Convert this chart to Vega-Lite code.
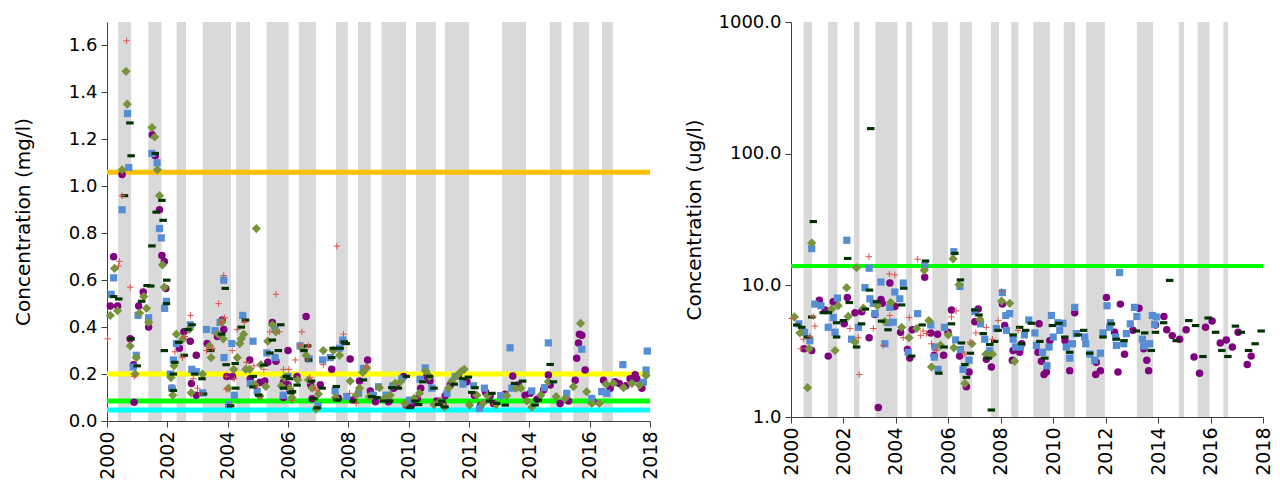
{
"$schema":"https://vega.github.io/schema/vega-lite/v6.json",
"background":"white",
"padding":{"left":13,"top":13,"right":0,"bottom":0},
"spacing":141,
"bounds":"flush",
"config":{
 "view":{"stroke":null},
 "font":"DejaVu Sans",
 "axis":{"grid":false,"domainColor":"#404040","tickColor":"#404040","domainWidth":1,"tickWidth":1,"tickSize":6,"labelColor":"#000000","labelFontSize":18,"labelFont":"DejaVu Sans","titleFont":"DejaVu Sans","titleFontSize":20,"titleFontWeight":"normal","titleColor":"#000000","labelPadding":4},
 "axisX":{"format":"d","labelAngle":-90,"labelFontSize":19},
 "axisY":{"format":".1f"}
},
"datasets":{
 "bl":[{"a":2000.37,"b":2000.8},{"a":2001.37,"b":2001.81},{"a":2002.31,"b":2002.62},{"a":2003.17,"b":2004.11},{"a":2004.28,"b":2004.74},{"a":2005.29,"b":2006.02},{"a":2006.36,"b":2006.93},{"a":2007.59,"b":2007.98},{"a":2008.32,"b":2008.74},{"a":2009.1,"b":2009.91},{"a":2010.24,"b":2010.9},{"a":2011.2,"b":2012.0},{"a":2013.1,"b":2013.89},{"a":2014.68,"b":2015.07},{"a":2015.46,"b":2015.98},{"a":2016.41,"b":2016.77}],
 "br":[{"a":2000.48,"b":2000.8},{"a":2001.41,"b":2001.77},{"a":2002.4,"b":2002.61},{"a":2003.22,"b":2004.06},{"a":2004.39,"b":2004.62},{"a":2005.39,"b":2005.98},{"a":2006.44,"b":2006.9},{"a":2007.63,"b":2007.93},{"a":2008.4,"b":2008.67},{"a":2009.24,"b":2009.87},{"a":2010.4,"b":2010.83},{"a":2011.26,"b":2011.97},{"a":2013.19,"b":2013.81},{"a":2014.79,"b":2014.99},{"a":2015.51,"b":2015.96},{"a":2016.49,"b":2016.67}],
 "hl":[{"v":1.06,"c":"o"},{"v":0.2,"c":"y"},{"v":0.085,"c":"g"},{"v":0.047,"c":"c"}],
 "hr":[{"v":14}],
 "pl":[
{"t":2000.22,"v":0.7,"s":"P"},{"t":2000.11,"v":0.49,"s":"P"},{"t":2000.35,"v":0.49,"s":"P"},{"t":2000.5,"v":1.05,"s":"P"},{"t":2000.77,"v":0.35,"s":"P"},{"t":2000.88,"v":0.24,"s":"P"},{"t":2000.9,"v":0.08,"s":"P"},{"t":2001.05,"v":0.49,"s":"P"},{"t":2001.2,"v":0.55,"s":"P"},{"t":2001.38,"v":0.4,"s":"P"},{"t":2001.5,"v":1.22,"s":"P"},{"t":2001.6,"v":1.13,"s":"P"},{"t":2001.74,"v":0.9,"s":"P"},{"t":2001.82,"v":0.705,"s":"P"},{"t":2001.9,"v":0.68,"s":"P"},{"t":2001.95,"v":0.565,"s":"P"},{"t":2002.15,"v":0.14,"s":"P"},{"t":2002.4,"v":0.31,"s":"P"},{"t":2002.55,"v":0.38,"s":"P"},{"t":2002.76,"v":0.34,"s":"P"},{"t":2002.8,"v":0.16,"s":"P"},{"t":2002.96,"v":0.28,"s":"P"},{"t":2002.96,"v":0.11,"s":"P"},{"t":2003.32,"v":0.33,"s":"P"},{"t":2003.66,"v":0.36,"s":"P"},{"t":2003.82,"v":0.43,"s":"P"},{"t":2003.87,"v":0.39,"s":"P"},{"t":2003.97,"v":0.19,"s":"P"},{"t":2004.16,"v":0.19,"s":"P"},{"t":2004.73,"v":0.26,"s":"P"},{"t":2004.75,"v":0.18,"s":"P"},{"t":2005.07,"v":0.165,"s":"P"},{"t":2005.23,"v":0.17,"s":"P"},{"t":2005.33,"v":0.25,"s":"P"},{"t":2005.48,"v":0.42,"s":"P"},{"t":2005.6,"v":0.255,"s":"P"},{"t":2005.85,"v":0.165,"s":"P"},{"t":2005.85,"v":0.1,"s":"P"},{"t":2006.0,"v":0.3,"s":"P"},{"t":2006.0,"v":0.155,"s":"P"},{"t":2006.07,"v":0.13,"s":"P"},{"t":2006.3,"v":0.19,"s":"P"},{"t":2006.6,"v":0.445,"s":"P"},{"t":2006.75,"v":0.155,"s":"P"},{"t":2006.8,"v":0.095,"s":"P"},{"t":2007.07,"v":0.155,"s":"P"},{"t":2007.45,"v":0.22,"s":"P"},{"t":2007.67,"v":0.097,"s":"P"},{"t":2007.82,"v":0.34,"s":"P"},{"t":2008.06,"v":0.264,"s":"P"},{"t":2008.15,"v":0.09,"s":"P"},{"t":2008.37,"v":0.17,"s":"P"},{"t":2008.64,"v":0.26,"s":"P"},{"t":2008.73,"v":0.128,"s":"P"},{"t":2008.9,"v":0.082,"s":"P"},{"t":2009.33,"v":0.082,"s":"P"},{"t":2009.5,"v":0.14,"s":"P"},{"t":2009.6,"v":0.15,"s":"P"},{"t":2009.83,"v":0.19,"s":"P"},{"t":2009.92,"v":0.068,"s":"P"},{"t":2010.1,"v":0.068,"s":"P"},{"t":2010.29,"v":0.096,"s":"P"},{"t":2010.4,"v":0.14,"s":"P"},{"t":2010.6,"v":0.19,"s":"P"},{"t":2010.71,"v":0.17,"s":"P"},{"t":2010.93,"v":0.085,"s":"P"},{"t":2011.15,"v":0.068,"s":"P"},{"t":2011.21,"v":0.108,"s":"P"},{"t":2011.38,"v":0.153,"s":"P"},{"t":2011.65,"v":0.194,"s":"P"},{"t":2011.93,"v":0.167,"s":"P"},{"t":2012.17,"v":0.11,"s":"P"},{"t":2012.39,"v":0.068,"s":"P"},{"t":2012.55,"v":0.122,"s":"P"},{"t":2012.7,"v":0.108,"s":"P"},{"t":2012.81,"v":0.075,"s":"P"},{"t":2013.2,"v":0.114,"s":"P"},{"t":2013.45,"v":0.192,"s":"P"},{"t":2013.64,"v":0.153,"s":"P"},{"t":2013.86,"v":0.11,"s":"P"},{"t":2014.03,"v":0.118,"s":"P"},{"t":2014.25,"v":0.093,"s":"P"},{"t":2014.47,"v":0.132,"s":"P"},{"t":2014.63,"v":0.196,"s":"P"},{"t":2014.69,"v":0.153,"s":"P"},{"t":2015.02,"v":0.075,"s":"P"},{"t":2015.3,"v":0.085,"s":"P"},{"t":2015.52,"v":0.174,"s":"P"},{"t":2015.57,"v":0.267,"s":"P"},{"t":2015.63,"v":0.332,"s":"P"},{"t":2015.66,"v":0.37,"s":"P"},{"t":2015.74,"v":0.365,"s":"P"},{"t":2015.85,"v":0.217,"s":"P"},{"t":2016.12,"v":0.082,"s":"P"},{"t":2016.46,"v":0.174,"s":"P"},{"t":2016.68,"v":0.14,"s":"P"},{"t":2016.84,"v":0.167,"s":"P"},{"t":2016.98,"v":0.16,"s":"P"},{"t":2017.2,"v":0.15,"s":"P"},{"t":2017.34,"v":0.18,"s":"P"},{"t":2017.51,"v":0.197,"s":"P"},{"t":2017.56,"v":0.18,"s":"P"},{"t":2017.73,"v":0.14,"s":"P"},
{"t":2000.14,"v":0.54,"s":"B"},{"t":2000.22,"v":0.61,"s":"B"},{"t":2000.5,"v":0.9,"s":"B"},{"t":2000.68,"v":1.31,"s":"B"},{"t":2000.72,"v":1.08,"s":"B"},{"t":2000.97,"v":0.28,"s":"B"},{"t":2000.87,"v":0.23,"s":"B"},{"t":2001.03,"v":0.45,"s":"B"},{"t":2001.38,"v":0.44,"s":"B"},{"t":2001.49,"v":1.14,"s":"B"},{"t":2001.66,"v":1.1,"s":"B"},{"t":2001.74,"v":0.82,"s":"B"},{"t":2001.8,"v":0.78,"s":"B"},{"t":2001.91,"v":0.48,"s":"B"},{"t":2001.97,"v":0.51,"s":"B"},{"t":2002.1,"v":0.2,"s":"B"},{"t":2002.15,"v":0.14,"s":"B"},{"t":2002.2,"v":0.26,"s":"B"},{"t":2002.3,"v":0.33,"s":"B"},{"t":2002.76,"v":0.41,"s":"B"},{"t":2002.81,"v":0.22,"s":"B"},{"t":2002.96,"v":0.21,"s":"B"},{"t":2003.17,"v":0.12,"s":"B"},{"t":2003.3,"v":0.39,"s":"B"},{"t":2003.58,"v":0.385,"s":"B"},{"t":2003.75,"v":0.42,"s":"B"},{"t":2003.87,"v":0.6,"s":"B"},{"t":2003.88,"v":0.27,"s":"B"},{"t":2004.03,"v":0.07,"s":"B"},{"t":2004.14,"v":0.33,"s":"B"},{"t":2004.22,"v":0.11,"s":"B"},{"t":2004.5,"v":0.45,"s":"B"},{"t":2004.75,"v":0.16,"s":"B"},{"t":2004.84,"v":0.34,"s":"B"},{"t":2004.98,"v":0.125,"s":"B"},{"t":2005.3,"v":0.29,"s":"B"},{"t":2005.57,"v":0.39,"s":"B"},{"t":2005.57,"v":0.27,"s":"B"},{"t":2005.84,"v":0.11,"s":"B"},{"t":2006.0,"v":0.19,"s":"B"},{"t":2006.4,"v":0.32,"s":"B"},{"t":2006.7,"v":0.265,"s":"B"},{"t":2007.0,"v":0.065,"s":"B"},{"t":2007.15,"v":0.26,"s":"B"},{"t":2007.4,"v":0.27,"s":"B"},{"t":2007.56,"v":0.128,"s":"B"},{"t":2007.71,"v":0.31,"s":"B"},{"t":2007.82,"v":0.345,"s":"B"},{"t":2007.95,"v":0.104,"s":"B"},{"t":2008.34,"v":0.118,"s":"B"},{"t":2008.5,"v":0.224,"s":"B"},{"t":2008.83,"v":0.11,"s":"B"},{"t":2009.0,"v":0.146,"s":"B"},{"t":2009.25,"v":0.11,"s":"B"},{"t":2009.47,"v":0.15,"s":"B"},{"t":2009.77,"v":0.18,"s":"B"},{"t":2010.03,"v":0.089,"s":"B"},{"t":2010.38,"v":0.178,"s":"B"},{"t":2010.55,"v":0.226,"s":"B"},{"t":2010.77,"v":0.14,"s":"B"},{"t":2011.27,"v":0.118,"s":"B"},{"t":2011.54,"v":0.19,"s":"B"},{"t":2011.8,"v":0.157,"s":"B"},{"t":2012.15,"v":0.15,"s":"B"},{"t":2012.35,"v":0.054,"s":"B"},{"t":2012.51,"v":0.14,"s":"B"},{"t":2013.05,"v":0.108,"s":"B"},{"t":2013.36,"v":0.312,"s":"B"},{"t":2013.42,"v":0.14,"s":"B"},{"t":2014.08,"v":0.128,"s":"B"},{"t":2014.5,"v":0.142,"s":"B"},{"t":2014.63,"v":0.333,"s":"B"},{"t":2015.24,"v":0.118,"s":"B"},{"t":2015.74,"v":0.306,"s":"B"},{"t":2016.07,"v":0.096,"s":"B"},{"t":2016.4,"v":0.125,"s":"B"},{"t":2016.57,"v":0.118,"s":"B"},{"t":2017.1,"v":0.24,"s":"B"},{"t":2017.78,"v":0.165,"s":"B"},{"t":2017.87,"v":0.217,"s":"B"},{"t":2017.91,"v":0.298,"s":"B"},
{"t":2000.11,"v":0.45,"s":"D"},{"t":2000.25,"v":0.65,"s":"D"},{"t":2000.35,"v":0.47,"s":"D"},{"t":2000.5,"v":1.07,"s":"D"},{"t":2000.63,"v":1.49,"s":"D"},{"t":2000.67,"v":1.35,"s":"D"},{"t":2000.77,"v":0.32,"s":"D"},{"t":2000.93,"v":0.2,"s":"D"},{"t":2000.97,"v":0.27,"s":"D"},{"t":2001.08,"v":0.46,"s":"D"},{"t":2001.22,"v":0.53,"s":"D"},{"t":2001.31,"v":0.48,"s":"D"},{"t":2001.38,"v":0.42,"s":"D"},{"t":2001.49,"v":1.25,"s":"D"},{"t":2001.58,"v":1.21,"s":"D"},{"t":2001.67,"v":1.07,"s":"D"},{"t":2001.74,"v":0.96,"s":"D"},{"t":2001.84,"v":0.665,"s":"D"},{"t":2001.9,"v":0.57,"s":"D"},{"t":2002.12,"v":0.185,"s":"D"},{"t":2002.18,"v":0.11,"s":"D"},{"t":2002.22,"v":0.235,"s":"D"},{"t":2002.3,"v":0.37,"s":"D"},{"t":2002.52,"v":0.35,"s":"D"},{"t":2002.73,"v":0.39,"s":"D"},{"t":2002.79,"v":0.12,"s":"D"},{"t":2003.17,"v":0.2,"s":"D"},{"t":2003.4,"v":0.32,"s":"D"},{"t":2003.45,"v":0.27,"s":"D"},{"t":2003.68,"v":0.37,"s":"D"},{"t":2003.8,"v":0.42,"s":"D"},{"t":2003.85,"v":0.35,"s":"D"},{"t":2004.03,"v":0.14,"s":"D"},{"t":2004.2,"v":0.22,"s":"D"},{"t":2004.32,"v":0.27,"s":"D"},{"t":2004.4,"v":0.33,"s":"D"},{"t":2004.45,"v":0.35,"s":"D"},{"t":2004.53,"v":0.37,"s":"D"},{"t":2004.6,"v":0.22,"s":"D"},{"t":2004.73,"v":0.22,"s":"D"},{"t":2004.9,"v":0.155,"s":"D"},{"t":2004.95,"v":0.82,"s":"D"},{"t":2005.07,"v":0.105,"s":"D"},{"t":2005.1,"v":0.24,"s":"D"},{"t":2005.26,"v":0.147,"s":"D"},{"t":2005.33,"v":0.34,"s":"D"},{"t":2005.48,"v":0.41,"s":"D"},{"t":2005.6,"v":0.38,"s":"D"},{"t":2005.78,"v":0.15,"s":"D"},{"t":2005.88,"v":0.185,"s":"D"},{"t":2006.05,"v":0.14,"s":"D"},{"t":2006.13,"v":0.1,"s":"D"},{"t":2006.32,"v":0.175,"s":"D"},{"t":2006.46,"v":0.31,"s":"D"},{"t":2006.6,"v":0.28,"s":"D"},{"t":2006.68,"v":0.175,"s":"D"},{"t":2006.8,"v":0.14,"s":"D"},{"t":2006.93,"v":0.05,"s":"D"},{"t":2007.01,"v":0.115,"s":"D"},{"t":2007.17,"v":0.3,"s":"D"},{"t":2007.5,"v":0.3,"s":"D"},{"t":2007.57,"v":0.1,"s":"D"},{"t":2007.71,"v":0.28,"s":"D"},{"t":2008.06,"v":0.17,"s":"D"},{"t":2008.26,"v":0.11,"s":"D"},{"t":2008.37,"v":0.14,"s":"D"},{"t":2008.48,"v":0.207,"s":"D"},{"t":2008.61,"v":0.226,"s":"D"},{"t":2008.7,"v":0.104,"s":"D"},{"t":2009.03,"v":0.142,"s":"D"},{"t":2009.19,"v":0.096,"s":"D"},{"t":2009.39,"v":0.11,"s":"D"},{"t":2009.55,"v":0.16,"s":"D"},{"t":2009.72,"v":0.167,"s":"D"},{"t":2009.88,"v":0.075,"s":"D"},{"t":2010.18,"v":0.096,"s":"D"},{"t":2010.36,"v":0.118,"s":"D"},{"t":2010.57,"v":0.212,"s":"D"},{"t":2010.69,"v":0.19,"s":"D"},{"t":2010.84,"v":0.07,"s":"D"},{"t":2011.04,"v":0.085,"s":"D"},{"t":2011.19,"v":0.06,"s":"D"},{"t":2011.32,"v":0.14,"s":"D"},{"t":2011.43,"v":0.17,"s":"D"},{"t":2011.6,"v":0.194,"s":"D"},{"t":2011.73,"v":0.21,"s":"D"},{"t":2011.84,"v":0.22,"s":"D"},{"t":2012.02,"v":0.068,"s":"D"},{"t":2012.26,"v":0.11,"s":"D"},{"t":2012.46,"v":0.075,"s":"D"},{"t":2012.61,"v":0.108,"s":"D"},{"t":2012.9,"v":0.07,"s":"D"},{"t":2013.25,"v":0.108,"s":"D"},{"t":2013.56,"v":0.14,"s":"D"},{"t":2013.72,"v":0.14,"s":"D"},{"t":2013.92,"v":0.085,"s":"D"},{"t":2014.08,"v":0.06,"s":"D"},{"t":2014.38,"v":0.11,"s":"D"},{"t":2014.63,"v":0.167,"s":"D"},{"t":2014.89,"v":0.104,"s":"D"},{"t":2015.18,"v":0.096,"s":"D"},{"t":2015.46,"v":0.146,"s":"D"},{"t":2015.7,"v":0.416,"s":"D"},{"t":2015.9,"v":0.125,"s":"D"},{"t":2016.07,"v":0.075,"s":"D"},{"t":2016.32,"v":0.075,"s":"D"},{"t":2016.55,"v":0.157,"s":"D"},{"t":2016.79,"v":0.16,"s":"D"},{"t":2017.12,"v":0.142,"s":"D"},{"t":2017.4,"v":0.16,"s":"D"},{"t":2017.65,"v":0.153,"s":"D"},{"t":2017.87,"v":0.194,"s":"D"},
{"t":2000.22,"v":0.53,"s":"K"},{"t":2000.39,"v":0.52,"s":"K"},{"t":2000.58,"v":0.96,"s":"K"},{"t":2000.76,"v":1.27,"s":"K"},{"t":2000.8,"v":1.13,"s":"K"},{"t":2000.8,"v":0.35,"s":"K"},{"t":2001.0,"v":0.235,"s":"K"},{"t":2001.15,"v":0.51,"s":"K"},{"t":2001.33,"v":0.577,"s":"K"},{"t":2001.45,"v":0.575,"s":"K"},{"t":2001.49,"v":0.746,"s":"K"},{"t":2001.6,"v":1.14,"s":"K"},{"t":2001.63,"v":0.89,"s":"K"},{"t":2001.82,"v":0.94,"s":"K"},{"t":2001.86,"v":0.855,"s":"K"},{"t":2001.98,"v":0.6,"s":"K"},{"t":2001.97,"v":0.5,"s":"K"},{"t":2001.9,"v":0.3,"s":"K"},{"t":2002.2,"v":0.2,"s":"K"},{"t":2002.2,"v":0.13,"s":"K"},{"t":2002.25,"v":0.25,"s":"K"},{"t":2002.38,"v":0.335,"s":"K"},{"t":2002.56,"v":0.28,"s":"K"},{"t":2002.68,"v":0.39,"s":"K"},{"t":2002.82,"v":0.41,"s":"K"},{"t":2002.9,"v":0.2,"s":"K"},{"t":2003.15,"v":0.18,"s":"K"},{"t":2003.2,"v":0.115,"s":"K"},{"t":2003.44,"v":0.3,"s":"K"},{"t":2003.8,"v":0.37,"s":"K"},{"t":2003.92,"v":0.565,"s":"K"},{"t":2003.95,"v":0.24,"s":"K"},{"t":2004.1,"v":0.065,"s":"K"},{"t":2004.25,"v":0.245,"s":"K"},{"t":2004.27,"v":0.14,"s":"K"},{"t":2004.45,"v":0.4,"s":"K"},{"t":2004.59,"v":0.43,"s":"K"},{"t":2004.85,"v":0.19,"s":"K"},{"t":2004.84,"v":0.145,"s":"K"},{"t":2005.03,"v":0.11,"s":"K"},{"t":2005.2,"v":0.238,"s":"K"},{"t":2005.4,"v":0.29,"s":"K"},{"t":2005.48,"v":0.345,"s":"K"},{"t":2005.68,"v":0.3,"s":"K"},{"t":2005.76,"v":0.41,"s":"K"},{"t":2005.85,"v":0.14,"s":"K"},{"t":2005.95,"v":0.19,"s":"K"},{"t":2006.05,"v":0.18,"s":"K"},{"t":2006.1,"v":0.12,"s":"K"},{"t":2006.15,"v":0.125,"s":"K"},{"t":2006.3,"v":0.153,"s":"K"},{"t":2006.53,"v":0.3,"s":"K"},{"t":2006.65,"v":0.32,"s":"K"},{"t":2006.68,"v":0.26,"s":"K"},{"t":2006.78,"v":0.17,"s":"K"},{"t":2006.86,"v":0.095,"s":"K"},{"t":2006.96,"v":0.056,"s":"K"},{"t":2007.13,"v":0.14,"s":"K"},{"t":2007.45,"v":0.27,"s":"K"},{"t":2007.5,"v":0.31,"s":"K"},{"t":2007.6,"v":0.147,"s":"K"},{"t":2007.62,"v":0.09,"s":"K"},{"t":2007.73,"v":0.31,"s":"K"},{"t":2007.87,"v":0.337,"s":"K"},{"t":2007.93,"v":0.33,"s":"K"},{"t":2008.17,"v":0.085,"s":"K"},{"t":2008.5,"v":0.175,"s":"K"},{"t":2008.78,"v":0.104,"s":"K"},{"t":2008.95,"v":0.1,"s":"K"},{"t":2009.17,"v":0.085,"s":"K"},{"t":2009.37,"v":0.085,"s":"K"},{"t":2009.44,"v":0.142,"s":"K"},{"t":2009.66,"v":0.14,"s":"K"},{"t":2009.92,"v":0.19,"s":"K"},{"t":2010.05,"v":0.057,"s":"K"},{"t":2010.21,"v":0.085,"s":"K"},{"t":2010.33,"v":0.07,"s":"K"},{"t":2010.47,"v":0.167,"s":"K"},{"t":2010.69,"v":0.19,"s":"K"},{"t":2010.84,"v":0.14,"s":"K"},{"t":2010.99,"v":0.07,"s":"K"},{"t":2011.1,"v":0.085,"s":"K"},{"t":2011.2,"v":0.06,"s":"K"},{"t":2011.51,"v":0.157,"s":"K"},{"t":2011.8,"v":0.18,"s":"K"},{"t":2011.98,"v":0.187,"s":"K"},{"t":2012.09,"v":0.122,"s":"K"},{"t":2012.2,"v":0.142,"s":"K"},{"t":2012.68,"v":0.085,"s":"K"},{"t":2012.76,"v":0.118,"s":"K"},{"t":2012.92,"v":0.075,"s":"K"},{"t":2013.2,"v":0.068,"s":"K"},{"t":2013.51,"v":0.16,"s":"K"},{"t":2013.78,"v":0.17,"s":"K"},{"t":2014.19,"v":0.068,"s":"K"},{"t":2014.3,"v":0.089,"s":"K"},{"t":2014.69,"v":0.241,"s":"K"},{"t":2014.8,"v":0.167,"s":"K"},
{"t":2000.02,"v":0.35,"s":"R"},{"t":2000.38,"v":0.66,"s":"R"},{"t":2000.41,"v":0.68,"s":"R"},{"t":2000.5,"v":0.96,"s":"R"},{"t":2000.65,"v":1.62,"s":"R"},{"t":2000.77,"v":0.57,"s":"R"},{"t":2000.9,"v":0.19,"s":"R"},{"t":2002.25,"v":0.295,"s":"R"},{"t":2002.5,"v":0.27,"s":"R"},{"t":2002.58,"v":0.36,"s":"R"},{"t":2002.77,"v":0.45,"s":"R"},{"t":2002.86,"v":0.18,"s":"R"},{"t":2003.0,"v":0.14,"s":"R"},{"t":2003.13,"v":0.115,"s":"R"},{"t":2003.3,"v":0.3,"s":"R"},{"t":2003.5,"v":0.31,"s":"R"},{"t":2003.7,"v":0.5,"s":"R"},{"t":2003.76,"v":0.42,"s":"R"},{"t":2003.87,"v":0.62,"s":"R"},{"t":2003.9,"v":0.44,"s":"R"},{"t":2003.95,"v":0.19,"s":"R"},{"t":2003.95,"v":0.135,"s":"R"},{"t":2004.15,"v":0.3,"s":"R"},{"t":2004.22,"v":0.18,"s":"R"},{"t":2004.32,"v":0.39,"s":"R"},{"t":2004.55,"v":0.42,"s":"R"},{"t":2004.62,"v":0.25,"s":"R"},{"t":2004.87,"v":0.235,"s":"R"},{"t":2004.98,"v":0.145,"s":"R"},{"t":2005.2,"v":0.22,"s":"R"},{"t":2005.4,"v":0.38,"s":"R"},{"t":2005.6,"v":0.54,"s":"R"},{"t":2005.72,"v":0.38,"s":"R"},{"t":2005.85,"v":0.22,"s":"R"},{"t":2006.03,"v":0.22,"s":"R"},{"t":2006.13,"v":0.087,"s":"R"},{"t":2006.24,"v":0.26,"s":"R"},{"t":2006.4,"v":0.325,"s":"R"},{"t":2006.46,"v":0.38,"s":"R"},{"t":2006.65,"v":0.26,"s":"R"},{"t":2006.68,"v":0.32,"s":"R"},{"t":2006.73,"v":0.185,"s":"R"},{"t":2006.9,"v":0.14,"s":"R"},{"t":2006.96,"v":0.13,"s":"R"},{"t":2007.17,"v":0.24,"s":"R"},{"t":2007.62,"v":0.745,"s":"R"},{"t":2007.84,"v":0.37,"s":"R"},{"t":2008.04,"v":0.118,"s":"R"},{"t":2008.26,"v":0.075,"s":"R"},{"t":2008.59,"v":0.23,"s":"R"}
 ],
 "pr":[
{"t":2000.5,"v":3.3,"s":"P"},{"t":2000.79,"v":3.2,"s":"P"},{"t":2001.08,"v":7.7,"s":"P"},{"t":2001.42,"v":2.9,"s":"P"},{"t":2001.61,"v":7.5,"s":"P"},{"t":2001.3,"v":6.5,"s":"P"},{"t":2002.03,"v":5.1,"s":"P"},{"t":2002.15,"v":8.1,"s":"P"},{"t":2002.44,"v":6.2,"s":"P"},{"t":2002.7,"v":6.3,"s":"P"},{"t":2002.98,"v":4.0,"s":"P"},{"t":2003.2,"v":6.0,"s":"P"},{"t":2003.33,"v":1.18,"s":"P"},{"t":2003.43,"v":7.8,"s":"P"},{"t":2003.48,"v":7.3,"s":"P"},{"t":2003.77,"v":10.4,"s":"P"},{"t":2003.96,"v":6.9,"s":"P"},{"t":2004.18,"v":4.4,"s":"P"},{"t":2004.44,"v":3.25,"s":"P"},{"t":2004.53,"v":2.8,"s":"P"},{"t":2004.62,"v":4.6,"s":"P"},{"t":2005.1,"v":11.5,"s":"P"},{"t":2005.33,"v":4.35,"s":"P"},{"t":2005.46,"v":2.95,"s":"P"},{"t":2005.59,"v":4.25,"s":"P"},{"t":2005.82,"v":2.95,"s":"P"},{"t":2005.99,"v":4.4,"s":"P"},{"t":2006.12,"v":6.5,"s":"P"},{"t":2006.43,"v":2.9,"s":"P"},{"t":2006.69,"v":1.7,"s":"P"},{"t":2006.79,"v":2.2,"s":"P"},{"t":2007.01,"v":5.3,"s":"P"},{"t":2007.14,"v":6.6,"s":"P"},{"t":2007.45,"v":2.75,"s":"P"},{"t":2007.64,"v":2.4,"s":"P"},{"t":2008.06,"v":7.2,"s":"P"},{"t":2008.15,"v":4.95,"s":"P"},{"t":2008.44,"v":2.7,"s":"P"},{"t":2008.47,"v":3.2,"s":"P"},{"t":2008.72,"v":3.1,"s":"P"},{"t":2008.8,"v":3.6,"s":"P"},{"t":2009.42,"v":3.1,"s":"P"},{"t":2009.46,"v":5.1,"s":"P"},{"t":2009.55,"v":2.65,"s":"P"},{"t":2009.65,"v":2.1,"s":"P"},{"t":2009.74,"v":2.2,"s":"P"},{"t":2009.87,"v":3.8,"s":"P"},{"t":2010.45,"v":3.8,"s":"P"},{"t":2010.63,"v":2.25,"s":"P"},{"t":2010.82,"v":6.2,"s":"P"},{"t":2011.62,"v":2.1,"s":"P"},{"t":2011.64,"v":2.6,"s":"P"},{"t":2011.8,"v":2.25,"s":"P"},{"t":2012.03,"v":8.1,"s":"P"},{"t":2012.34,"v":4.4,"s":"P"},{"t":2012.47,"v":2.2,"s":"P"},{"t":2012.56,"v":7.2,"s":"P"},{"t":2012.72,"v":3.0,"s":"P"},{"t":2013.04,"v":4.55,"s":"P"},{"t":2013.27,"v":6.7,"s":"P"},{"t":2013.45,"v":3.3,"s":"P"},{"t":2013.57,"v":2.7,"s":"P"},{"t":2013.64,"v":2.25,"s":"P"},{"t":2013.9,"v":5.0,"s":"P"},{"t":2014.22,"v":5.8,"s":"P"},{"t":2014.33,"v":4.6,"s":"P"},{"t":2014.54,"v":4.15,"s":"P"},{"t":2014.82,"v":3.9,"s":"P"},{"t":2015.07,"v":4.6,"s":"P"},{"t":2015.37,"v":2.85,"s":"P"},{"t":2015.58,"v":2.15,"s":"P"},{"t":2015.81,"v":4.8,"s":"P"},{"t":2016.06,"v":5.35,"s":"P"},{"t":2016.37,"v":3.65,"s":"P"},{"t":2016.6,"v":3.85,"s":"P"},{"t":2016.83,"v":3.4,"s":"P"},{"t":2017.05,"v":4.4,"s":"P"},{"t":2017.4,"v":2.5,"s":"P"},{"t":2017.55,"v":2.9,"s":"P"},
{"t":2000.3,"v":5.1,"s":"B"},{"t":2000.51,"v":4.4,"s":"B"},{"t":2000.72,"v":3.8,"s":"B"},{"t":2000.79,"v":19,"s":"B"},{"t":2000.91,"v":7.2,"s":"B"},{"t":2001.14,"v":7.0,"s":"B"},{"t":2001.42,"v":4.8,"s":"B"},{"t":2001.61,"v":5.7,"s":"B"},{"t":2001.68,"v":4.4,"s":"B"},{"t":2001.77,"v":8.0,"s":"B"},{"t":2002.13,"v":22,"s":"B"},{"t":2002.31,"v":3.9,"s":"B"},{"t":2002.57,"v":4.8,"s":"B"},{"t":2002.82,"v":9.6,"s":"B"},{"t":2002.98,"v":13.5,"s":"B"},{"t":2003.01,"v":7.9,"s":"B"},{"t":2003.14,"v":7.3,"s":"B"},{"t":2003.2,"v":6.1,"s":"B"},{"t":2003.43,"v":10.6,"s":"B"},{"t":2003.58,"v":3.6,"s":"B"},{"t":2003.71,"v":5.2,"s":"B"},{"t":2003.77,"v":6.8,"s":"B"},{"t":2003.9,"v":5.25,"s":"B"},{"t":2003.96,"v":8.9,"s":"B"},{"t":2004.15,"v":7.9,"s":"B"},{"t":2004.28,"v":10.4,"s":"B"},{"t":2004.47,"v":3.1,"s":"B"},{"t":2004.83,"v":6.1,"s":"B"},{"t":2005.1,"v":14,"s":"B"},{"t":2005.33,"v":5.0,"s":"B"},{"t":2005.46,"v":2.85,"s":"B"},{"t":2005.49,"v":3.4,"s":"B"},{"t":2005.61,"v":2.3,"s":"B"},{"t":2005.85,"v":4.8,"s":"B"},{"t":2006.21,"v":18,"s":"B"},{"t":2006.28,"v":3.85,"s":"B"},{"t":2006.44,"v":9.8,"s":"B"},{"t":2006.46,"v":3.25,"s":"B"},{"t":2006.56,"v":2.3,"s":"B"},{"t":2006.79,"v":2.7,"s":"B"},{"t":2007.01,"v":6.3,"s":"B"},{"t":2007.23,"v":5.1,"s":"B"},{"t":2007.39,"v":3.9,"s":"B"},{"t":2007.58,"v":3.2,"s":"B"},{"t":2007.83,"v":4.7,"s":"B"},{"t":2008.06,"v":8.8,"s":"B"},{"t":2008.19,"v":5.9,"s":"B"},{"t":2008.22,"v":4.55,"s":"B"},{"t":2008.34,"v":6.1,"s":"B"},{"t":2008.47,"v":3.9,"s":"B"},{"t":2008.57,"v":3.4,"s":"B"},{"t":2008.75,"v":3.4,"s":"B"},{"t":2008.9,"v":4.2,"s":"B"},{"t":2009.07,"v":5.45,"s":"B"},{"t":2009.3,"v":4.35,"s":"B"},{"t":2009.36,"v":3.5,"s":"B"},{"t":2009.59,"v":3.1,"s":"B"},{"t":2009.76,"v":2.45,"s":"B"},{"t":2009.84,"v":3.4,"s":"B"},{"t":2009.93,"v":5.9,"s":"B"},{"t":2010.0,"v":4.05,"s":"B"},{"t":2010.18,"v":5.2,"s":"B"},{"t":2010.25,"v":4.55,"s":"B"},{"t":2010.37,"v":5.15,"s":"B"},{"t":2010.5,"v":3.4,"s":"B"},{"t":2010.63,"v":2.8,"s":"B"},{"t":2010.73,"v":3.6,"s":"B"},{"t":2010.82,"v":6.8,"s":"B"},{"t":2010.88,"v":4.3,"s":"B"},{"t":2011.2,"v":4.05,"s":"B"},{"t":2011.24,"v":3.6,"s":"B"},{"t":2011.4,"v":3.0,"s":"B"},{"t":2011.58,"v":2.7,"s":"B"},{"t":2011.8,"v":3.05,"s":"B"},{"t":2011.9,"v":4.35,"s":"B"},{"t":2012.05,"v":7.0,"s":"B"},{"t":2012.15,"v":4.8,"s":"B"},{"t":2012.18,"v":5.2,"s":"B"},{"t":2012.38,"v":4.05,"s":"B"},{"t":2012.41,"v":3.5,"s":"B"},{"t":2012.53,"v":12.5,"s":"B"},{"t":2012.69,"v":3.6,"s":"B"},{"t":2012.79,"v":4.3,"s":"B"},{"t":2012.94,"v":5.1,"s":"B"},{"t":2013.1,"v":6.8,"s":"B"},{"t":2013.19,"v":5.8,"s":"B"},{"t":2013.4,"v":3.9,"s":"B"},{"t":2013.45,"v":3.45,"s":"B"},{"t":2013.68,"v":3.6,"s":"B"},{"t":2013.78,"v":5.9,"s":"B"},{"t":2013.87,"v":5.05,"s":"B"},{"t":2013.93,"v":5.75,"s":"B"},
{"t":2000.13,"v":5.75,"s":"D"},{"t":2000.34,"v":4.35,"s":"D"},{"t":2000.63,"v":1.67,"s":"D"},{"t":2000.69,"v":3.3,"s":"D"},{"t":2000.79,"v":21,"s":"D"},{"t":2001.55,"v":6.6,"s":"D"},{"t":2001.68,"v":3.2,"s":"D"},{"t":2001.8,"v":7.0,"s":"D"},{"t":2002.12,"v":9.6,"s":"D"},{"t":2002.18,"v":5.8,"s":"D"},{"t":2002.44,"v":3.7,"s":"D"},{"t":2002.5,"v":13.6,"s":"D"},{"t":2002.76,"v":6.7,"s":"D"},{"t":2003.3,"v":7.0,"s":"D"},{"t":2003.58,"v":5.3,"s":"D"},{"t":2003.8,"v":7.4,"s":"D"},{"t":2004.22,"v":4.8,"s":"D"},{"t":2004.5,"v":4.0,"s":"D"},{"t":2004.79,"v":4.7,"s":"D"},{"t":2005.08,"v":13,"s":"D"},{"t":2005.26,"v":5.4,"s":"D"},{"t":2005.36,"v":2.4,"s":"D"},{"t":2005.7,"v":3.5,"s":"D"},{"t":2006.0,"v":4.2,"s":"D"},{"t":2006.18,"v":15.9,"s":"D"},{"t":2006.21,"v":3.35,"s":"D"},{"t":2006.41,"v":10.1,"s":"D"},{"t":2006.63,"v":1.8,"s":"D"},{"t":2006.9,"v":3.6,"s":"D"},{"t":2007.2,"v":5.5,"s":"D"},{"t":2007.43,"v":3.0,"s":"D"},{"t":2007.68,"v":3.0,"s":"D"},{"t":2008.03,"v":7.6,"s":"D"},{"t":2008.34,"v":7.3,"s":"D"},{"t":2008.53,"v":2.65,"s":"D"},
{"t":2000.22,"v":5.0,"s":"K"},{"t":2000.41,"v":4.8,"s":"K"},{"t":2000.63,"v":4.05,"s":"K"},{"t":2000.79,"v":5.75,"s":"K"},{"t":2000.85,"v":30.5,"s":"K"},{"t":2001.23,"v":6.2,"s":"K"},{"t":2001.42,"v":6.2,"s":"K"},{"t":2001.74,"v":5.2,"s":"K"},{"t":2001.74,"v":4.05,"s":"K"},{"t":2002.0,"v":5.4,"s":"K"},{"t":2002.16,"v":16,"s":"K"},{"t":2002.22,"v":7.4,"s":"K"},{"t":2002.5,"v":3.4,"s":"K"},{"t":2002.69,"v":5.1,"s":"K"},{"t":2002.84,"v":6.6,"s":"K"},{"t":2002.99,"v":9.2,"s":"K"},{"t":2003.04,"v":155,"s":"K"},{"t":2003.26,"v":7.5,"s":"K"},{"t":2003.45,"v":5.35,"s":"K"},{"t":2003.7,"v":4.6,"s":"K"},{"t":2004.22,"v":7.1,"s":"K"},{"t":2004.3,"v":9.5,"s":"K"},{"t":2004.6,"v":2.9,"s":"K"},{"t":2005.0,"v":5.0,"s":"K"},{"t":2005.13,"v":15.3,"s":"K"},{"t":2005.64,"v":2.15,"s":"K"},{"t":2005.84,"v":3.4,"s":"K"},{"t":2006.12,"v":5.1,"s":"K"},{"t":2006.25,"v":17.5,"s":"K"},{"t":2006.46,"v":11,"s":"K"},{"t":2006.5,"v":3.65,"s":"K"},{"t":2006.63,"v":2.5,"s":"K"},{"t":2006.69,"v":2.0,"s":"K"},{"t":2006.84,"v":3.05,"s":"K"},{"t":2007.01,"v":6.5,"s":"K"},{"t":2007.17,"v":5.95,"s":"K"},{"t":2007.33,"v":4.3,"s":"K"},{"t":2007.52,"v":2.8,"s":"K"},{"t":2007.58,"v":3.55,"s":"K"},{"t":2007.64,"v":1.13,"s":"K"},{"t":2007.77,"v":3.75,"s":"K"},{"t":2007.9,"v":4.55,"s":"K"},{"t":2008.47,"v":4.2,"s":"K"},{"t":2008.72,"v":4.8,"s":"K"},{"t":2008.79,"v":3.6,"s":"K"},{"t":2008.95,"v":4.55,"s":"K"},{"t":2009.17,"v":5.15,"s":"K"},{"t":2009.49,"v":3.75,"s":"K"},{"t":2009.68,"v":2.8,"s":"K"},{"t":2009.97,"v":4.95,"s":"K"},{"t":2010.22,"v":5.15,"s":"K"},{"t":2010.44,"v":4.05,"s":"K"},{"t":2010.63,"v":3.1,"s":"K"},{"t":2010.95,"v":4.2,"s":"K"},{"t":2011.16,"v":4.55,"s":"K"},{"t":2011.39,"v":3.05,"s":"K"},{"t":2011.9,"v":4.05,"s":"K"},{"t":2012.22,"v":5.1,"s":"K"},{"t":2012.41,"v":3.9,"s":"K"},{"t":2012.7,"v":3.8,"s":"K"},{"t":2013.17,"v":4.5,"s":"K"},{"t":2013.49,"v":4.35,"s":"K"},{"t":2013.74,"v":3.2,"s":"K"},{"t":2013.9,"v":4.4,"s":"K"},{"t":2014.21,"v":5.2,"s":"K"},{"t":2014.44,"v":10.9,"s":"K"},{"t":2014.69,"v":3.8,"s":"K"},{"t":2015.17,"v":5.4,"s":"K"},{"t":2015.43,"v":4.95,"s":"K"},{"t":2015.71,"v":2.88,"s":"K"},{"t":2015.91,"v":5.65,"s":"K"},{"t":2016.19,"v":4.4,"s":"K"},{"t":2016.43,"v":3.2,"s":"K"},{"t":2016.66,"v":2.88,"s":"K"},{"t":2016.95,"v":4.9,"s":"K"},{"t":2017.17,"v":4.4,"s":"K"},{"t":2017.45,"v":3.2,"s":"K"},{"t":2017.7,"v":3.6,"s":"K"},{"t":2017.93,"v":4.5,"s":"K"},
{"t":2000.03,"v":5.6,"s":"R"},{"t":2000.38,"v":3.3,"s":"R"},{"t":2000.47,"v":3.9,"s":"R"},{"t":2000.72,"v":4.1,"s":"R"},{"t":2000.85,"v":5.8,"s":"R"},{"t":2000.91,"v":4.9,"s":"R"},{"t":2002.25,"v":4.7,"s":"R"},{"t":2002.56,"v":4.0,"s":"R"},{"t":2002.6,"v":2.1,"s":"R"},{"t":2002.97,"v":16.5,"s":"R"},{"t":2003.14,"v":4.7,"s":"R"},{"t":2003.52,"v":3.5,"s":"R"},{"t":2003.75,"v":12.2,"s":"R"},{"t":2003.77,"v":5.9,"s":"R"},{"t":2003.96,"v":12,"s":"R"},{"t":2004.28,"v":4.0,"s":"R"},{"t":2004.51,"v":5.7,"s":"R"},{"t":2004.83,"v":15.8,"s":"R"},{"t":2004.95,"v":4.15,"s":"R"},{"t":2005.04,"v":4.5,"s":"R"},{"t":2005.17,"v":4.3,"s":"R"},{"t":2005.36,"v":3.6,"s":"R"},{"t":2005.55,"v":3.2,"s":"R"},{"t":2006.12,"v":5.75,"s":"R"},{"t":2006.3,"v":6.4,"s":"R"},{"t":2006.63,"v":3.0,"s":"R"},{"t":2006.82,"v":3.7,"s":"R"},{"t":2007.05,"v":4.35,"s":"R"},{"t":2007.45,"v":4.8,"s":"R"},{"t":2007.68,"v":3.9,"s":"R"},{"t":2007.9,"v":5.4,"s":"R"},{"t":2008.03,"v":9.0,"s":"R"},{"t":2008.66,"v":4.55,"s":"R"}
 ]
},
"hconcat":[
 {"width":543,"height":399,"layer":[
  {"data":{"name":"bl"},"mark":{"type":"rect","color":"#D9D9D9"},"encoding":{"x":{"field":"a","type":"quantitative","title":null,"scale":{"domain":[2000,2018],"nice":false,"zero":false},"axis":{"values":[2000,2002,2004,2006,2008,2010,2012,2014,2016,2018]}},"x2":{"field":"b"}}},
  {"data":{"name":"hl"},"mark":{"type":"rule","strokeWidth":5},"encoding":{"y":{"field":"v","type":"quantitative","title":"Concentration (mg/l)","scale":{"domain":[0,1.7],"nice":false},"axis":{"titlePadding":35}},"color":{"field":"c","type":"nominal","legend":null,"scale":{"domain":["o","y","g","c"],"range":["#FFC000","#FFFF00","#00FF00","#00FFFF"]}}}},
  {"data":{"name":"pl"},"transform":[{"filter":"datum.s==='P'"}],"mark":{"type":"point","shape":"circle","filled":true,"opacity":1,"color":"#800080","size":56},"encoding":{"x":{"field":"t","type":"quantitative","title":null,"scale":{"domain":[2000,2018],"nice":false,"zero":false},"axis":{"values":[2000,2002,2004,2006,2008,2010,2012,2014,2016,2018]}},"y":{"field":"v","type":"quantitative","title":"Concentration (mg/l)","scale":{"domain":[0,1.7],"nice":false},"axis":{"titlePadding":35}}}},
  {"data":{"name":"pl"},"transform":[{"filter":"datum.s==='B'"}],"mark":{"type":"point","shape":"square","filled":true,"opacity":1,"color":"#558ED5","size":52},"encoding":{"x":{"field":"t","type":"quantitative","title":null,"scale":{"domain":[2000,2018],"nice":false,"zero":false},"axis":{"values":[2000,2002,2004,2006,2008,2010,2012,2014,2016,2018]}},"y":{"field":"v","type":"quantitative","title":"Concentration (mg/l)","scale":{"domain":[0,1.7],"nice":false},"axis":{"titlePadding":35}}}},
  {"data":{"name":"pl"},"transform":[{"filter":"datum.s==='D'"}],"mark":{"type":"point","shape":"diamond","filled":true,"opacity":1,"color":"#77933C","size":85},"encoding":{"x":{"field":"t","type":"quantitative","title":null,"scale":{"domain":[2000,2018],"nice":false,"zero":false},"axis":{"values":[2000,2002,2004,2006,2008,2010,2012,2014,2016,2018]}},"y":{"field":"v","type":"quantitative","title":"Concentration (mg/l)","scale":{"domain":[0,1.7],"nice":false},"axis":{"titlePadding":35}}}},
  {"data":{"name":"pl"},"transform":[{"filter":"datum.s==='K'"}],"mark":{"type":"point","shape":"M-1,-0.42H1V0.42H-1Z","filled":true,"opacity":1,"color":"#003300","size":56},"encoding":{"x":{"field":"t","type":"quantitative","title":null,"scale":{"domain":[2000,2018],"nice":false,"zero":false},"axis":{"values":[2000,2002,2004,2006,2008,2010,2012,2014,2016,2018]}},"y":{"field":"v","type":"quantitative","title":"Concentration (mg/l)","scale":{"domain":[0,1.7],"nice":false},"axis":{"titlePadding":35}}}},
  {"data":{"name":"pl"},"transform":[{"filter":"datum.s==='R'"}],"mark":{"type":"point","shape":"M-1,0H1M0,-1V1","filled":false,"opacity":1,"color":"#D9534F","strokeWidth":1,"size":42},"encoding":{"x":{"field":"t","type":"quantitative","title":null,"scale":{"domain":[2000,2018],"nice":false,"zero":false},"axis":{"values":[2000,2002,2004,2006,2008,2010,2012,2014,2016,2018]}},"y":{"field":"v","type":"quantitative","title":"Concentration (mg/l)","scale":{"domain":[0,1.7],"nice":false},"axis":{"titlePadding":35}}}}
 ]},
 {"width":472,"height":395,"layer":[
  {"data":{"name":"br"},"mark":{"type":"rect","color":"#D9D9D9"},"encoding":{"x":{"field":"a","type":"quantitative","title":null,"scale":{"domain":[2000,2018],"nice":false,"zero":false},"axis":{"values":[2000,2002,2004,2006,2008,2010,2012,2014,2016,2018]}},"x2":{"field":"b"}}},
  {"data":{"name":"hr"},"mark":{"type":"rule","strokeWidth":4,"color":"#00FF00"},"encoding":{"y":{"field":"v","type":"quantitative","title":"Concentration (ug/l)","scale":{"type":"log","domain":[1,1000],"nice":false},"axis":{"values":[1,10,100,1000],"titlePadding":14}}}},
  {"data":{"name":"pr"},"transform":[{"filter":"datum.s==='P'"}],"mark":{"type":"point","shape":"circle","filled":true,"opacity":1,"color":"#800080","size":56},"encoding":{"x":{"field":"t","type":"quantitative","title":null,"scale":{"domain":[2000,2018],"nice":false,"zero":false},"axis":{"values":[2000,2002,2004,2006,2008,2010,2012,2014,2016,2018]}},"y":{"field":"v","type":"quantitative","title":"Concentration (ug/l)","scale":{"type":"log","domain":[1,1000],"nice":false},"axis":{"values":[1,10,100,1000],"titlePadding":14}}}},
  {"data":{"name":"pr"},"transform":[{"filter":"datum.s==='B'"}],"mark":{"type":"point","shape":"square","filled":true,"opacity":1,"color":"#558ED5","size":52},"encoding":{"x":{"field":"t","type":"quantitative","title":null,"scale":{"domain":[2000,2018],"nice":false,"zero":false},"axis":{"values":[2000,2002,2004,2006,2008,2010,2012,2014,2016,2018]}},"y":{"field":"v","type":"quantitative","title":"Concentration (ug/l)","scale":{"type":"log","domain":[1,1000],"nice":false},"axis":{"values":[1,10,100,1000],"titlePadding":14}}}},
  {"data":{"name":"pr"},"transform":[{"filter":"datum.s==='D'"}],"mark":{"type":"point","shape":"diamond","filled":true,"opacity":1,"color":"#77933C","size":85},"encoding":{"x":{"field":"t","type":"quantitative","title":null,"scale":{"domain":[2000,2018],"nice":false,"zero":false},"axis":{"values":[2000,2002,2004,2006,2008,2010,2012,2014,2016,2018]}},"y":{"field":"v","type":"quantitative","title":"Concentration (ug/l)","scale":{"type":"log","domain":[1,1000],"nice":false},"axis":{"values":[1,10,100,1000],"titlePadding":14}}}},
  {"data":{"name":"pr"},"transform":[{"filter":"datum.s==='K'"}],"mark":{"type":"point","shape":"M-1,-0.42H1V0.42H-1Z","filled":true,"opacity":1,"color":"#003300","size":56},"encoding":{"x":{"field":"t","type":"quantitative","title":null,"scale":{"domain":[2000,2018],"nice":false,"zero":false},"axis":{"values":[2000,2002,2004,2006,2008,2010,2012,2014,2016,2018]}},"y":{"field":"v","type":"quantitative","title":"Concentration (ug/l)","scale":{"type":"log","domain":[1,1000],"nice":false},"axis":{"values":[1,10,100,1000],"titlePadding":14}}}},
  {"data":{"name":"pr"},"transform":[{"filter":"datum.s==='R'"}],"mark":{"type":"point","shape":"M-1,0H1M0,-1V1","filled":false,"opacity":1,"color":"#D9534F","strokeWidth":1,"size":42},"encoding":{"x":{"field":"t","type":"quantitative","title":null,"scale":{"domain":[2000,2018],"nice":false,"zero":false},"axis":{"values":[2000,2002,2004,2006,2008,2010,2012,2014,2016,2018]}},"y":{"field":"v","type":"quantitative","title":"Concentration (ug/l)","scale":{"type":"log","domain":[1,1000],"nice":false},"axis":{"values":[1,10,100,1000],"titlePadding":14}}}}
 ]}
]
}
